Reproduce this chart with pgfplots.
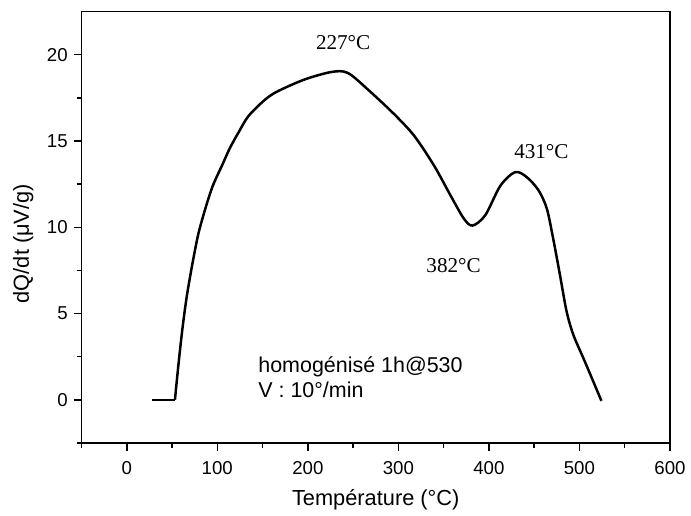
\documentclass[border=0pt]{standalone}
\usepackage{pgfplots}
\pgfplotsset{compat=1.18}
\usepackage{fontspec}
\setmainfont{Liberation Sans}
\newfontfamily\timesfont{Liberation Serif}

\begin{document}
\begin{tikzpicture}
% page frame, in the reference's proportions
\path (-49.2bp,-42.2bp) rectangle (365.2bp,267.4bp);
\begin{axis}[
  scale only axis, width=355.2bp, height=260.4bp,
  xmin=-50, xmax=600, ymin=-2.5, ymax=22.5,
  xtick={0,100,...,600}, ytick={0,5,...,20},
  minor xtick={-50,50,...,550}, minor ytick={-2.5,2.5,...,17.5},
  xtick pos=left, ytick pos=left, tick align=outside,
  major tick length=4.8bp, minor tick length=3bp,
  axis line style={line width=0.9bp},
  tick style={line width=0.9bp, black},
  tick label style={font=\fontsize{11.3}{13}\selectfont},
  xticklabel style={yshift=-3bp},
  /pgf/number format/assume math mode=true,
  label style={font=\fontsize{13.2}{15}\selectfont},
  xlabel={Température (°C)},
  ylabel={dQ/dt (μV/g)},
  xlabel style={at={(axis description cs:0.5,-0.132)}, anchor=center},
  ylabel style={at={(axis description cs:-0.099,0.462)}, anchor=center},
  clip=false]
\addplot[black, line width=1.5bp, sharp plot] coordinates {(27.6,0) (53.2,0)};
\addplot[black, line width=1.5bp, smooth, tension=0.5] coordinates {
  (53.2,0) (57,2.0) (61.2,4.0) (66,5.9) (72.2,7.8) (79,9.6) (86.9,11.1)
  (95,12.4) (105.1,13.57) (114,14.6) (123.5,15.5) (134.5,16.45)
  (152.8,17.4) (167.4,17.9) (196.7,18.57) (226,19.0) (244,18.95)
  (266,18.0) (295.5,16.55) (317.5,15.3) (339.5,13.57) (357.7,11.84)
  (372.4,10.5) (382,10.1) (396,10.7) (412.6,12.4) (429,13.2) (442,12.9)
  (455,12.13) (464,11.08) (471,9.35) (478.5,7.24) (485.8,5.13)
  (493.2,3.78) (504.2,2.44) (515.1,1.09) (524.3,-0.06)};
\node[font=\timesfont\fontsize{12.8}{14}\selectfont] at (axis cs:239,20.7) {227°C};
\node[font=\timesfont\fontsize{12.8}{14}\selectfont] at (axis cs:361,7.8) {382°C};
\node[font=\timesfont\fontsize{12.8}{14}\selectfont] at (axis cs:458,14.4) {431°C};
\node[anchor=west, align=left, inner sep=0pt, font=\fontsize{13}{15.3}\selectfont]
  at (axis cs:145,1.3) {homogénisé 1h@530\\V : 10°/min};
\end{axis}
\end{tikzpicture}
\end{document}
